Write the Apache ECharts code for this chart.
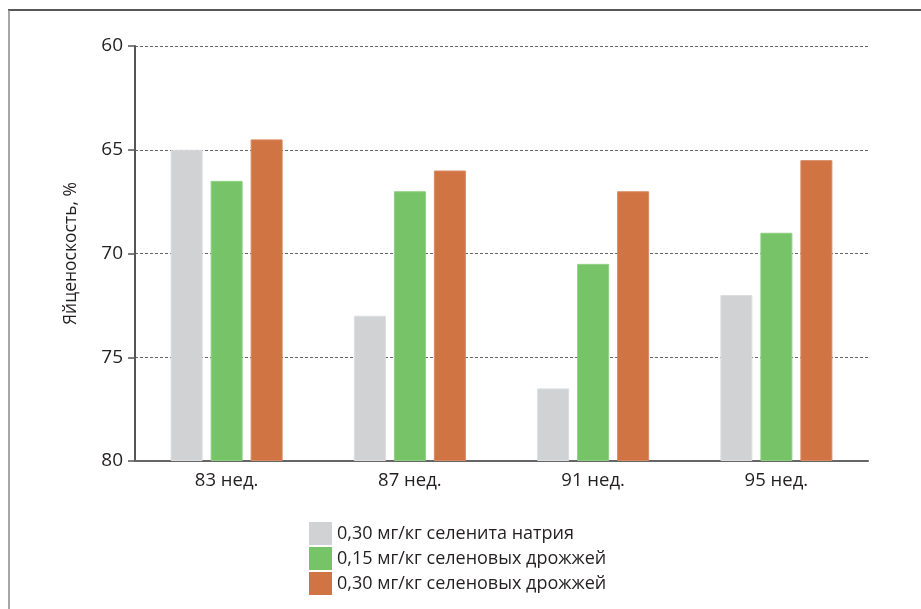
<!DOCTYPE html>
<html>
<head>
<meta charset="utf-8">
<script src="https://cdn.jsdelivr.net/npm/echarts@6/dist/echarts.min.js"></script>
<style>
  html, body { margin: 0; padding: 0; background: #fff; }
  #chart { width: 921px; height: 609px; }
</style>
</head>
<body>
<div id="chart"></div>
<script>
// Weeks of observation
const categories = ['83 нед.', '87 нед.', '91 нед.', '95 нед.'];
// Egg production (%) per group
const sodiumSelenite030 = [65.0, 73.0, 76.5, 72.0];
const seleniumYeast015 = [66.5, 67.0, 70.5, 69.0];
const seleniumYeast030 = [64.5, 66.0, 67.0, 65.5];
const seriesNames = [
  '0,30 мг/кг селенита натрия',
  '0,15 мг/кг селеновых дрожжей',
  '0,30 мг/кг селеновых дрожжей'
];
const yTicks = [60, 65, 70, 75, 80];

const colors = ['#d1d2d4', '#77c368', '#d07444'];
const borders = ['#dcdddf', '#8fcf83', '#d98a62'];
const fontFamily = '"Open Sans", "Noto Sans", sans-serif';

const chart = echarts.init(document.getElementById('chart'));

const values = [sodiumSelenite030, seleniumYeast015, seleniumYeast030];

chart.setOption({
  animation: false,
  color: colors,
  textStyle: { fontFamily: fontFamily, color: '#231f20' },
  grid: { left: 135, right: 53, top: 46, bottom: 148, containLabel: false },
  legend: {
    orient: 'vertical',
    left: 309,
    top: 522,
    height: 85,
    padding: 0,
    itemWidth: 23,
    itemHeight: 23,
    itemGap: 2,
    icon: 'rect',
    itemStyle: { borderWidth: 0 },
    textStyle: { fontSize: 18, lineHeight: 23, color: '#231f20', fontFamily: fontFamily },
    data: seriesNames
  },
  xAxis: {
    type: 'category',
    data: categories,
    axisLine: { onZero: false, lineStyle: { color: '#666', width: 2 } },
    axisTick: { show: false },
    axisLabel: { fontSize: 18.5, color: '#231f20', margin: 10 },
    splitLine: { show: false }
  },
  yAxis: {
    type: 'value',
    inverse: true,
    min: yTicks[0],
    max: yTicks[yTicks.length - 1],
    interval: 5,
    startValue: yTicks[yTicks.length - 1],
    name: 'Яйценоскость, %',
    nameLocation: 'middle',
    nameGap: 55,
    nameRotate: 90,
    nameTextStyle: { fontSize: 17.5, color: '#231f20' },
    axisLine: { show: true, lineStyle: { color: '#555', width: 2 } },
    axisTick: { show: true, length: 7, lineStyle: { color: '#555', width: 1.5 } },
    axisLabel: { fontSize: 19, color: '#231f20', margin: 12 },
    splitLine: { show: true, lineStyle: { color: '#666', type: [3, 2], width: 1 } }
  },
  series: seriesNames.map((name, i) => ({
    name: name,
    type: 'bar',
    data: values[i],
    barWidth: 32,
    barGap: '25%',
    clip: true,
    itemStyle: { color: colors[i], borderColor: borders[i], borderWidth: 1 }
  })),
  graphic: [
    {
      type: 'line',
      shape: { x1: 8, y1: 10, x2: 921, y2: 10 },
      style: { stroke: '#231f20', lineWidth: 1.5 }
    },
    {
      type: 'line',
      shape: { x1: 9, y1: 10, x2: 9, y2: 609 },
      style: { stroke: '#888', lineWidth: 1.5 }
    }
  ]
});
</script>
</body>
</html>
